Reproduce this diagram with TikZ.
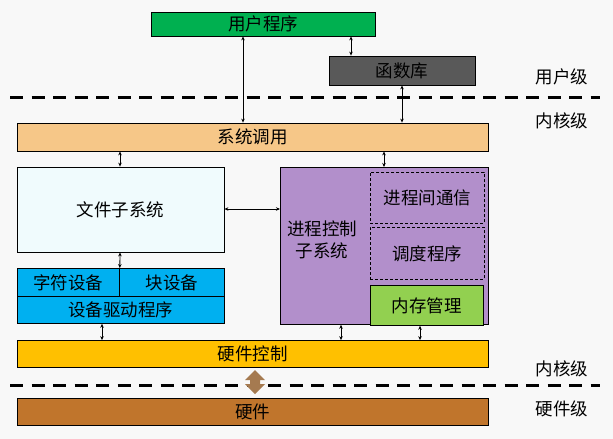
\documentclass[tikz,border=0pt]{standalone}
\usepackage{fontspec}
\setmainfont{Noto Sans CJK SC}
\usetikzlibrary{arrows.meta}
\definecolor{bg}{HTML}{F8F8F8}
\definecolor{ugreen}{HTML}{00B050}
\definecolor{libgray}{HTML}{595959}
\definecolor{syscall}{HTML}{F6C788}
\definecolor{filesys}{HTML}{F0FBFD}
\definecolor{devblue}{HTML}{00B0F0}
\definecolor{procpurple}{HTML}{B28FCB}
\definecolor{memgreen}{HTML}{92D050}
\definecolor{hwctl}{HTML}{FFC000}
\definecolor{hwbrown}{HTML}{C0752C}
\definecolor{arrowbrown}{HTML}{A57A50}
\tikzset{
  box/.style={draw=black, line width=0.8pt, inner sep=0pt},
  dbox/.style={draw=black, line width=0.7pt, dash pattern=on 3pt off 2pt, inner sep=0pt},
  lbl/.style={font=\fontsize{17.5}{22}\selectfont},
  lvl/.style={font=\fontsize{17.5}{22}\selectfont},
  conn/.style={line width=0.8pt, {Stealth[length=4pt,width=3.5pt]}-{Stealth[length=4pt,width=3.5pt]}},
  sep/.style={line width=3pt, dash pattern=on 13pt off 8.5pt}
}
\begin{document}
\begin{tikzpicture}[x=1pt,y=-1pt]
\useasboundingbox (0,0) rectangle (613,439);
\fill[bg] (0,0) rectangle (613,439);

% user level
\node[box, fill=ugreen, minimum width=224pt, minimum height=24pt, lbl] (user) at (263,24) {用户程序};
\node[box, fill=libgray, minimum width=146pt, minimum height=29pt, lbl] (lib) at (402,70.5) {函数库};

% separators
\coordinate (s1a) at (10,97); \coordinate (s1b) at (600,97);
\draw[sep] (s1a) -- (s1b);
\coordinate (s2a) at (10,385); \coordinate (s2b) at (600,385);
\draw[sep] (s2a) -- (s2b);

% system call
\node[box, fill=syscall, minimum width=471pt, minimum height=28pt, lbl] (sys) at (252.5,137) {系统调用};

% file subsystem
\node[box, fill=filesys, minimum width=207pt, minimum height=85pt, lbl] (fs) at (120.5,209.5) {文件子系统};

% devices
\node[box, fill=devblue, minimum width=102pt, minimum height=28pt, lbl, anchor=north west] (chr) at (17,268) {字符设备};
\node[box, fill=devblue, minimum width=105pt, minimum height=28pt, lbl, anchor=north west] (blk) at (119,268) {块设备};
\node[box, fill=devblue, minimum width=207pt, minimum height=27pt, lbl, anchor=north west] (drv) at (17,296) {设备驱动程序};

% process control subsystem
\node[box, fill=procpurple, minimum width=208pt, minimum height=157pt, anchor=north west] (proc) at (280,167) {};
\node[lbl, align=center] (proclbl) at (322,240) {进程控制\\子系统};
\node[dbox, minimum width=114pt, minimum height=51pt, lbl, anchor=north west] (ipc) at (370,172) {进程间通信};
\node[dbox, minimum width=114pt, minimum height=52pt, lbl, anchor=north west] (sched) at (370,227) {调度程序};
\node[box, fill=memgreen, minimum width=113pt, minimum height=40pt, lbl, anchor=north west] (mem) at (370,285) {内存管理};

% hardware control and hardware
\node[box, fill=hwctl, minimum width=471pt, minimum height=27pt, lbl] (hwc) at (252.5,354) {硬件控制};
\node[box, fill=hwbrown, minimum width=471pt, minimum height=27pt, lbl] (hw) at (252.5,412) {硬件};

% level labels
\node[lvl] (l1) at (562,77) {用户级};
\node[lvl] (l2) at (562,121) {内核级};
\node[lvl] (l3) at (562,369) {内核级};
\node[lvl] (l4) at (562,409) {硬件级};

% connectors
\draw[conn] (user.south -| 243,0) -- (sys.north -| 243,0);
\draw[conn] (user.south -| 351,0) -- (lib.north -| 351,0);
\draw[conn] (lib.south -| 402,0) -- (sys.north -| 402,0);
\draw[conn] (sys.south -| 120,0) -- (fs.north -| 120,0);
\draw[conn] (sys.south -| 384,0) -- (proc.north -| 384,0);
\draw[conn] (fs.east |- 0,209) -- (proc.west |- 0,209);
\draw[conn] (fs.south -| 120,0) -- (chr.north east);
\draw[conn] (drv.south -| 102,0) -- (hwc.north -| 102,0);
\draw[conn] (proc.south -| 341,0) -- (hwc.north -| 341,0);
\draw[conn] (mem.south -| 420,0) -- (hwc.north -| 420,0);

% thick brown double arrow
\coordinate (ba) at (255,370);
\coordinate (bb) at (255,394);
\fill[arrowbrown] (ba) -- ++(10,10) -- ++(-5,0) -- ++(0,4) -- ++(5,0) -- (bb) -- ++(-10,-10) -- ++(5,0) -- ++(0,-4) -- ++(-5,0) -- cycle;
\end{tikzpicture}
\end{document}
